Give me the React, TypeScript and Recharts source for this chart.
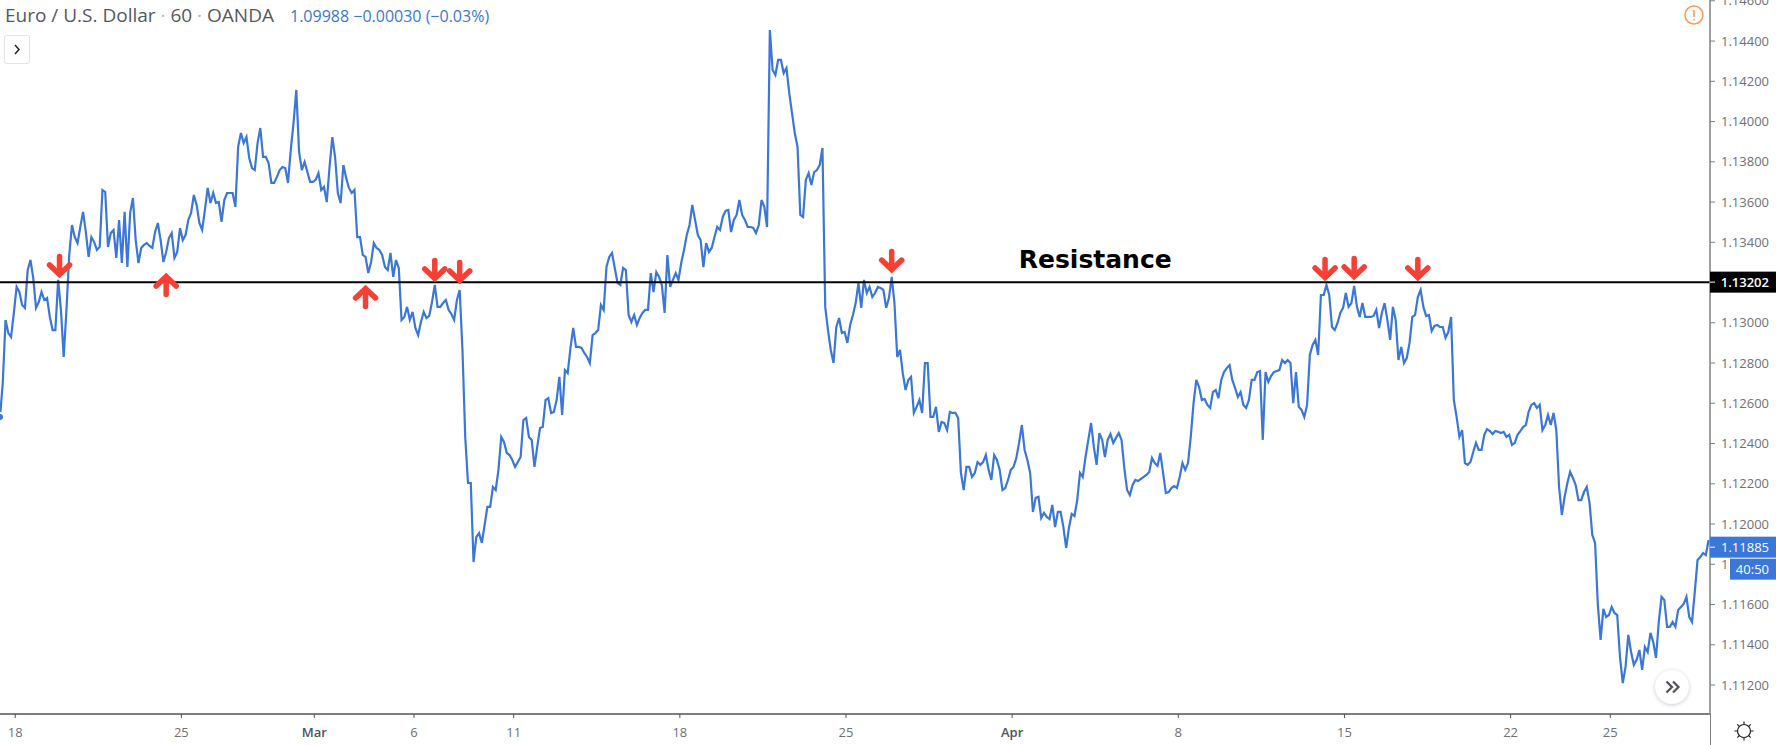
import React from 'react';
import { LineChart, Line, XAxis, YAxis, ReferenceLine, ReferenceDot } from 'recharts';

// EUR/USD closes, one value every 2 hours of trading
const closesFebruary = [
  1.12532, 1.12701, 1.13014, 1.12949, 1.12929, 1.13049, 1.13178, 1.13153, 1.13088, 1.13074, 1.13262, 1.13312,
  1.13223, 1.13074, 1.13103, 1.13153, 1.13113, 1.13123, 1.13029, 1.12964, 1.12964, 1.13213, 1.13064, 1.1283,
  1.13064, 1.13337, 1.13486, 1.13426, 1.13396, 1.13476, 1.13551, 1.13451, 1.13327, 1.13426, 1.13401, 1.13362,
  1.13377, 1.1366, 1.1365, 1.13377, 1.13446, 1.13461, 1.13322, 1.13511, 1.13297, 1.13551, 1.13277, 1.13546,
  1.1362, 1.13411, 1.13297, 1.13372, 1.13387, 1.13396, 1.13382, 1.13372, 1.13451, 1.13496, 1.13411, 1.13302,
  1.13352, 1.13421, 1.13446, 1.13322, 1.13352, 1.13471, 1.13411, 1.13436, 1.13511, 1.13546, 1.13635, 1.13586,
  1.13496, 1.13461, 1.13561, 1.1367, 1.13595, 1.13645, 1.13595, 1.136, 1.13501, 1.1361, 1.13645, 1.13645,
  1.13645, 1.13576, 1.13874, 1.13943, 1.13893, 1.13923, 1.13819, 1.13769, 1.13759, 1.13893, 1.13968, 1.13824,
  1.13824, 1.13794, 1.13695, 1.13695, 1.13725, 1.13759, 1.13774, 1.13769, 1.13695, 1.13859, 1.13993, 1.14157,
  1.13849, 1.13759, 1.13799, 1.13749, 1.137, 1.137,
];
const closesMarchEarly = [
  1.1371, 1.13744, 1.1366, 1.13675, 1.136, 1.13774, 1.13923, 1.13824, 1.13645, 1.13595, 1.13784, 1.1372,
  1.1367, 1.13645, 1.1366, 1.13426, 1.13426, 1.13337, 1.13327, 1.13247, 1.13302, 1.13396, 1.13372, 1.13362,
  1.13337, 1.13277, 1.13262, 1.13347, 1.13228, 1.13312, 1.13272, 1.13014, 1.13029, 1.13079, 1.13014, 1.13054,
  1.12974, 1.12939, 1.13004, 1.13054, 1.13024, 1.13034, 1.13103, 1.13188, 1.13079, 1.13079, 1.13098, 1.13113,
  1.13064, 1.13044, 1.13014, 1.13113, 1.13163, 1.12865, 1.12433, 1.12204, 1.12204, 1.11811, 1.11936, 1.11955,
  1.11906, 1.11995, 1.12085, 1.12085, 1.12184, 1.12169, 1.12269, 1.12433, 1.12408, 1.12353, 1.12343, 1.12318,
  1.12284, 1.12308, 1.12333, 1.12517, 1.12527, 1.12433, 1.12418, 1.12284, 1.12383, 1.12477, 1.12482, 1.12616,
  1.12626, 1.12552, 1.12557, 1.12616, 1.12731, 1.12542, 1.12765, 1.1275, 1.12875, 1.12974, 1.1288, 1.1288,
  1.12875, 1.1285, 1.1283, 1.128, 1.12939, 1.12949, 1.12964, 1.13088, 1.13064, 1.13277, 1.13327, 1.13347,
  1.13272, 1.13198, 1.13188, 1.13272, 1.13262, 1.13039, 1.13004, 1.13039, 1.12989, 1.13024, 1.13049, 1.13064,
  1.13064, 1.13247, 1.13153, 1.13252, 1.13228, 1.13188, 1.13049, 1.13337, 1.13178, 1.13213, 1.13247, 1.13213,
];
const closesMarchLate = [
  1.13297, 1.13362, 1.13436, 1.13486, 1.13586, 1.13511, 1.13436, 1.13411, 1.13277, 1.13396, 1.13352, 1.13372,
  1.13426, 1.13476, 1.13461, 1.13526, 1.13556, 1.13561, 1.13451, 1.13511, 1.13536, 1.1361, 1.13536, 1.13511,
  1.13476, 1.13476, 1.13471, 1.13446, 1.13486, 1.1361, 1.13576, 1.13476, 1.14455, 1.14256, 1.14231, 1.14306,
  1.14306, 1.14241, 1.14266, 1.14142, 1.14042, 1.13943, 1.13874, 1.13536, 1.13526, 1.1371, 1.13744, 1.13685,
  1.13749, 1.13759, 1.13784, 1.13869, 1.13079, 1.12964, 1.12865, 1.128, 1.12979, 1.13024, 1.12949, 1.12954,
  1.129, 1.12989, 1.13039, 1.13098, 1.13198, 1.13074, 1.13213, 1.13148, 1.13178, 1.13128, 1.13148, 1.13178,
  1.13173, 1.13163, 1.13074, 1.13123, 1.13228, 1.13098, 1.1283, 1.12865, 1.1275, 1.12666, 1.12716, 1.12731,
  1.12552, 1.12582, 1.12616, 1.12552, 1.128, 1.128, 1.12532, 1.12532, 1.12582, 1.12458, 1.12507, 1.12502,
  1.12467, 1.12557, 1.12552, 1.12552, 1.12527, 1.12254, 1.12169, 1.12284, 1.12284, 1.12234, 1.12254, 1.12308,
  1.12294, 1.12308, 1.12343, 1.12269, 1.12219, 1.12343, 1.12318, 1.12269, 1.12169, 1.12179, 1.12219, 1.12269,
];
const closesAprilEarly = [
  1.12284, 1.12328, 1.12403, 1.12492, 1.12368, 1.12318, 1.12254, 1.1206, 1.1213, 1.12135, 1.1203, 1.12055,
  1.12035, 1.12025, 1.12095, 1.11985, 1.1206, 1.1206, 1.11985, 1.11881, 1.1198, 1.1205, 1.1204, 1.12119,
  1.12254, 1.12234, 1.12333, 1.12418, 1.12502, 1.12383, 1.12294, 1.12452, 1.12418, 1.12333, 1.12418, 1.12447,
  1.12403, 1.12428, 1.12452, 1.12418, 1.12279, 1.12169, 1.12144, 1.12194, 1.12219, 1.12214, 1.12224, 1.12234,
  1.12244, 1.12259, 1.12328, 1.12303, 1.12289, 1.12353, 1.12254, 1.12154, 1.12159, 1.12179, 1.12189, 1.12179,
  1.12234, 1.12303, 1.12269, 1.12303, 1.12433, 1.12601, 1.12716, 1.12681, 1.12616, 1.12621, 1.12592, 1.12577,
  1.12656, 1.12666, 1.12626, 1.12716, 1.12755, 1.12775, 1.1279, 1.12716, 1.12676, 1.12631, 1.12656, 1.12592,
  1.12577, 1.12616, 1.12716, 1.12716, 1.12755, 1.1276, 1.12418, 1.12755, 1.12706, 1.12735, 1.12755, 1.1276,
  1.12765, 1.12815, 1.128, 1.12815, 1.128, 1.12601, 1.12755, 1.12582, 1.12567, 1.12532, 1.12592, 1.1284,
  1.1289, 1.12915, 1.1284, 1.13138, 1.13138, 1.13188, 1.13138, 1.12979, 1.12964, 1.12999, 1.13049, 1.13074,
];
const closesAprilLate = [
  1.13148, 1.13079, 1.13098, 1.13183, 1.13079, 1.13029, 1.13098, 1.13029, 1.13029, 1.13029, 1.13034, 1.13064,
  1.12974, 1.13049, 1.13098, 1.13014, 1.12915, 1.13079, 1.13014, 1.12815, 1.1288, 1.128, 1.12825, 1.129,
  1.13029, 1.13039, 1.13128, 1.13163, 1.13079, 1.13034, 1.13039, 1.12959, 1.12984, 1.12989, 1.12979, 1.12979,
  1.12925, 1.12954, 1.13029, 1.12616, 1.12532, 1.12433, 1.12467, 1.12303, 1.12294, 1.12308, 1.12358, 1.12403,
  1.12368, 1.12368, 1.12443, 1.12472, 1.12462, 1.12447, 1.12462, 1.12458, 1.12452, 1.12458, 1.12433, 1.12443,
  1.12393, 1.12403, 1.12443, 1.12462, 1.12482, 1.12492, 1.12557, 1.12592, 1.12601, 1.12577, 1.12592, 1.12467,
  1.12492, 1.12542, 1.12492, 1.12552, 1.12467, 1.12184, 1.12045, 1.12135, 1.12204, 1.12259, 1.12229, 1.12194,
  1.12119, 1.12119, 1.12159, 1.12184, 1.12105, 1.11946, 1.11906, 1.11598, 1.11424, 1.11578, 1.11538, 1.11548,
  1.11588, 1.11558, 1.11548, 1.11339, 1.1121, 1.1129, 1.11449, 1.11364, 1.113, 1.11325, 1.11374, 1.11275,
  1.11389, 1.11364, 1.11459, 1.11414, 1.11335, 1.11513, 1.11638, 1.11623, 1.11489, 1.11489, 1.11513, 1.11489,
  1.11573, 1.11588, 1.11603, 1.11638, 1.11538, 1.11513, 1.11662, 1.11821, 1.11836, 1.11856, 1.11846, 1.11921,
];

// 1.13200 sits fully behind the resistance tag, so it has no tick here
const priceTicks = [
  1.146, 1.144, 1.142, 1.14, 1.138, 1.136, 1.134, 1.13, 1.128, 1.126, 1.124, 1.122, 1.12, 1.118, 1.116, 1.114, 1.112,
];
// hours of trading since the first bar
const dateTickHours = [11, 131, 227, 299, 371, 491, 611, 731, 851, 971, 1091, 1163];
const dateTickLabels = ['18', '25', 'Mar', '6', '11', '18', '25', 'Apr', '8', '15', '22', '25'];

const arrowHours = [43, 120, 264, 314, 332, 644, 957, 978, 1024];
const arrowPrices = [1.13223, 1.13247, 1.13188, 1.13203, 1.13193, 1.13247, 1.13208, 1.13213, 1.13208];
const arrowDirections = ['down', 'up', 'up', 'down', 'down', 'down', 'down', 'down', 'down'];

const RESISTANCE = 1.13202;
const LAST_PRICE = 1.11885;
const COVERED_TICK = 1.118;
const LAST_HOUR = 1235;

const FONT = '"Open Sans", sans-serif';
const BLUE = '#3a77d8';
const RED = '#f73f34';
const TEXT_GRAY = '#6f7078';

const chartData = [
  ...closesFebruary,
  ...closesMarchEarly,
  ...closesMarchLate,
  ...closesAprilEarly,
  ...closesAprilLate,
].map((close, i) => ({ hour: i * 2, close }));

const DateTick = ({ x, y, payload }: any) => {
  const label = dateTickLabels[dateTickHours.indexOf(payload.value)];
  const isMonth = label === 'Mar' || label === 'Apr';
  return (
    <text
      x={x}
      y={y + 17}
      textAnchor="middle"
      fontFamily={FONT}
      fontSize={13}
      fontWeight={isMonth ? 600 : 400}
      fill={isMonth ? '#50535e' : TEXT_GRAY}
    >
      {label}
    </text>
  );
};

// the countdown tag hides all but the first digit of 1.11800
const priceLabel = (v: number) => (v === COVERED_TICK ? '1' : v.toFixed(5));

const Arrow = ({ cx, cy, direction }: any) => {
  const s = direction === 'down' ? -1 : 1;
  return (
    <g fill="none" stroke={RED} strokeWidth={5.5} strokeLinecap="round" strokeLinejoin="miter">
      <path d={`M${cx} ${cy + s * 5}V${cy + s * 21.5}`} />
      <path d={`M${cx - 10} ${cy + s * 13}L${cx} ${cy + s * 3.5}L${cx + 10} ${cy + s * 13}`} />
    </g>
  );
};

const PriceTag = ({ cx, cy, label, fill, bold }: any) => (
  <g>
    <rect x={cx} y={cy - 10.5} width={66} height={21} fill={fill} />
    <line x1={cx} x2={cx + 5} y1={cy} y2={cy} stroke="#fff" />
    <text x={cx + 59} y={cy + 5} textAnchor="end" fontFamily={FONT} fontSize={13} fontWeight={bold ? 600 : 400} fill="#fff">
      {label}
    </text>
  </g>
);

const CountdownTag = ({ cx, cy }: any) => (
  <g>
    <rect x={cx + 20} y={cy + 11.5} width={46} height={21} fill={BLUE} />
    <text x={cx + 59} y={cy + 27} textAnchor="end" fontFamily={FONT} fontSize={13} fill="#fff">
      40:50
    </text>
  </g>
);

const App = () => {
  return (
    <div style={{ position: 'absolute', left: 0, top: 0, width: 1776, height: 745, background: '#fff', overflow: 'hidden' }}>
      <LineChart width={1776} height={745} data={chartData} margin={{ top: 0, right: 0, bottom: 0, left: 0 }}>
        <XAxis
          dataKey="hour"
          type="number"
          domain={[0, LAST_HOUR]}
          ticks={dateTickHours}
          interval={0}
          height={31}
          tick={<DateTick />}
          tickSize={4}
          axisLine={{ stroke: '#50535e', strokeWidth: 1.5 }}
          tickLine={{ stroke: '#50535e' }}
        />
        <YAxis
          orientation="right"
          type="number"
          domain={[1.11056, 1.14604]}
          ticks={priceTicks}
          interval={0}
          width={66}
          tickFormatter={priceLabel}
          tick={{ fill: TEXT_GRAY, fontSize: 13, fontFamily: FONT }}
          tickSize={5}
          tickMargin={6}
          axisLine={{ stroke: '#7f7f7f', strokeWidth: 1.5 }}
          tickLine={{ stroke: '#7f7f7f' }}
        />
        <Line
          dataKey="close"
          type="linear"
          stroke={BLUE}
          strokeWidth={2.2}
          strokeLinecap="butt"
          dot={false}
          isAnimationActive={false}
        />
        <ReferenceLine y={RESISTANCE} stroke="#000" strokeWidth={2} />
        {arrowHours.map((hour, i) => (
          <ReferenceDot
            key={hour}
            x={hour}
            y={arrowPrices[i]}
            shape={(p: any) => <Arrow cx={p.cx} cy={p.cy} direction={arrowDirections[i]} />}
          />
        ))}
        <ReferenceDot
          x={791}
          y={1.13272}
          shape={(p: any) => (
            <text x={p.cx} y={p.cy} textAnchor="middle" fontFamily="'DejaVu Sans'" fontWeight={700} fontSize={25} fill="#000">
              Resistance
            </text>
          )}
        />
        <ReferenceDot
          x={LAST_HOUR}
          y={RESISTANCE}
          ifOverflow="visible"
          shape={(p: any) => <PriceTag cx={p.cx} cy={p.cy} label={RESISTANCE.toFixed(5)} fill="#000" bold />}
        />
        <ReferenceDot
          x={LAST_HOUR}
          y={LAST_PRICE}
          ifOverflow="visible"
          shape={(p: any) => (
            <g>
              <PriceTag cx={p.cx} cy={p.cy} label={LAST_PRICE.toFixed(5)} fill={BLUE} />
              <CountdownTag cx={p.cx} cy={p.cy} />
            </g>
          )}
        />
      </LineChart>

      {/* toolbar bits around the plot */}
      <div style={{ position: 'absolute', left: 1709.5, top: 714, width: 1.5, height: 31, background: '#7f7f7f' }} />
      <div
        style={{
          position: 'absolute',
          left: 5,
          top: 2,
          fontFamily: FONT,
          fontSize: 19,
          color: '#555862',
          whiteSpace: 'nowrap',
        }}
      >
        Euro / U.S. Dollar <span style={{ color: '#b2b5be' }}>·</span> 60 <span style={{ color: '#b2b5be' }}>·</span> OANDA
      </div>
      <div
        style={{
          position: 'absolute',
          left: 290,
          top: 5,
          fontFamily: FONT,
          fontSize: 16,
          color: BLUE,
          whiteSpace: 'nowrap',
        }}
      >
        1.09988 −0.00030 (−0.03%)
      </div>
      <div
        style={{
          position: 'absolute',
          left: 4,
          top: 35,
          width: 24,
          height: 27,
          border: '1px solid #e0e3eb',
          borderRadius: 3,
          background: '#fff',
        }}
      >
        <svg width={24} height={27} style={{ display: 'block' }}>
          <path d="M10 9l4 4.5-4 4.5" fill="none" stroke="#222" strokeWidth={1.5} />
        </svg>
      </div>
      <svg width={22} height={22} style={{ position: 'absolute', left: 1683, top: 4 }}>
        <circle cx={11} cy={11} r={9} fill="none" stroke="#ff9850" strokeWidth={1.5} />
        <path d="M11 6v7M11 15v1.5" stroke="#ff9850" strokeWidth={1.5} />
      </svg>
      <div
        style={{
          position: 'absolute',
          left: 1655,
          top: 670,
          width: 34,
          height: 34,
          borderRadius: 17,
          background: '#fff',
          boxShadow: '0 1px 4px rgba(0,0,0,0.2)',
        }}
      >
        <svg width={34} height={34} style={{ display: 'block' }}>
          <path d="M11.5 11.5l5.5 5.5-5.5 5.5M18 11.5l5.5 5.5-5.5 5.5" fill="none" stroke="#50535e" strokeWidth={2.2} />
        </svg>
      </div>
      <svg width={24} height={24} style={{ position: 'absolute', left: 1732, top: 719 }}>
        <circle cx={12} cy={12} r={6.5} fill="none" stroke="#222" strokeWidth={1.2} />
        <path
          d="M12 2.5v3M12 18.5v3M2.5 12h3M18.5 12h3M5.3 5.3l2 2M16.7 16.7l2 2M5.3 18.7l2-2M16.7 7.3l2-2"
          stroke="#222"
          strokeWidth={1.2}
        />
      </svg>
    </div>
  );
};

export default App;
